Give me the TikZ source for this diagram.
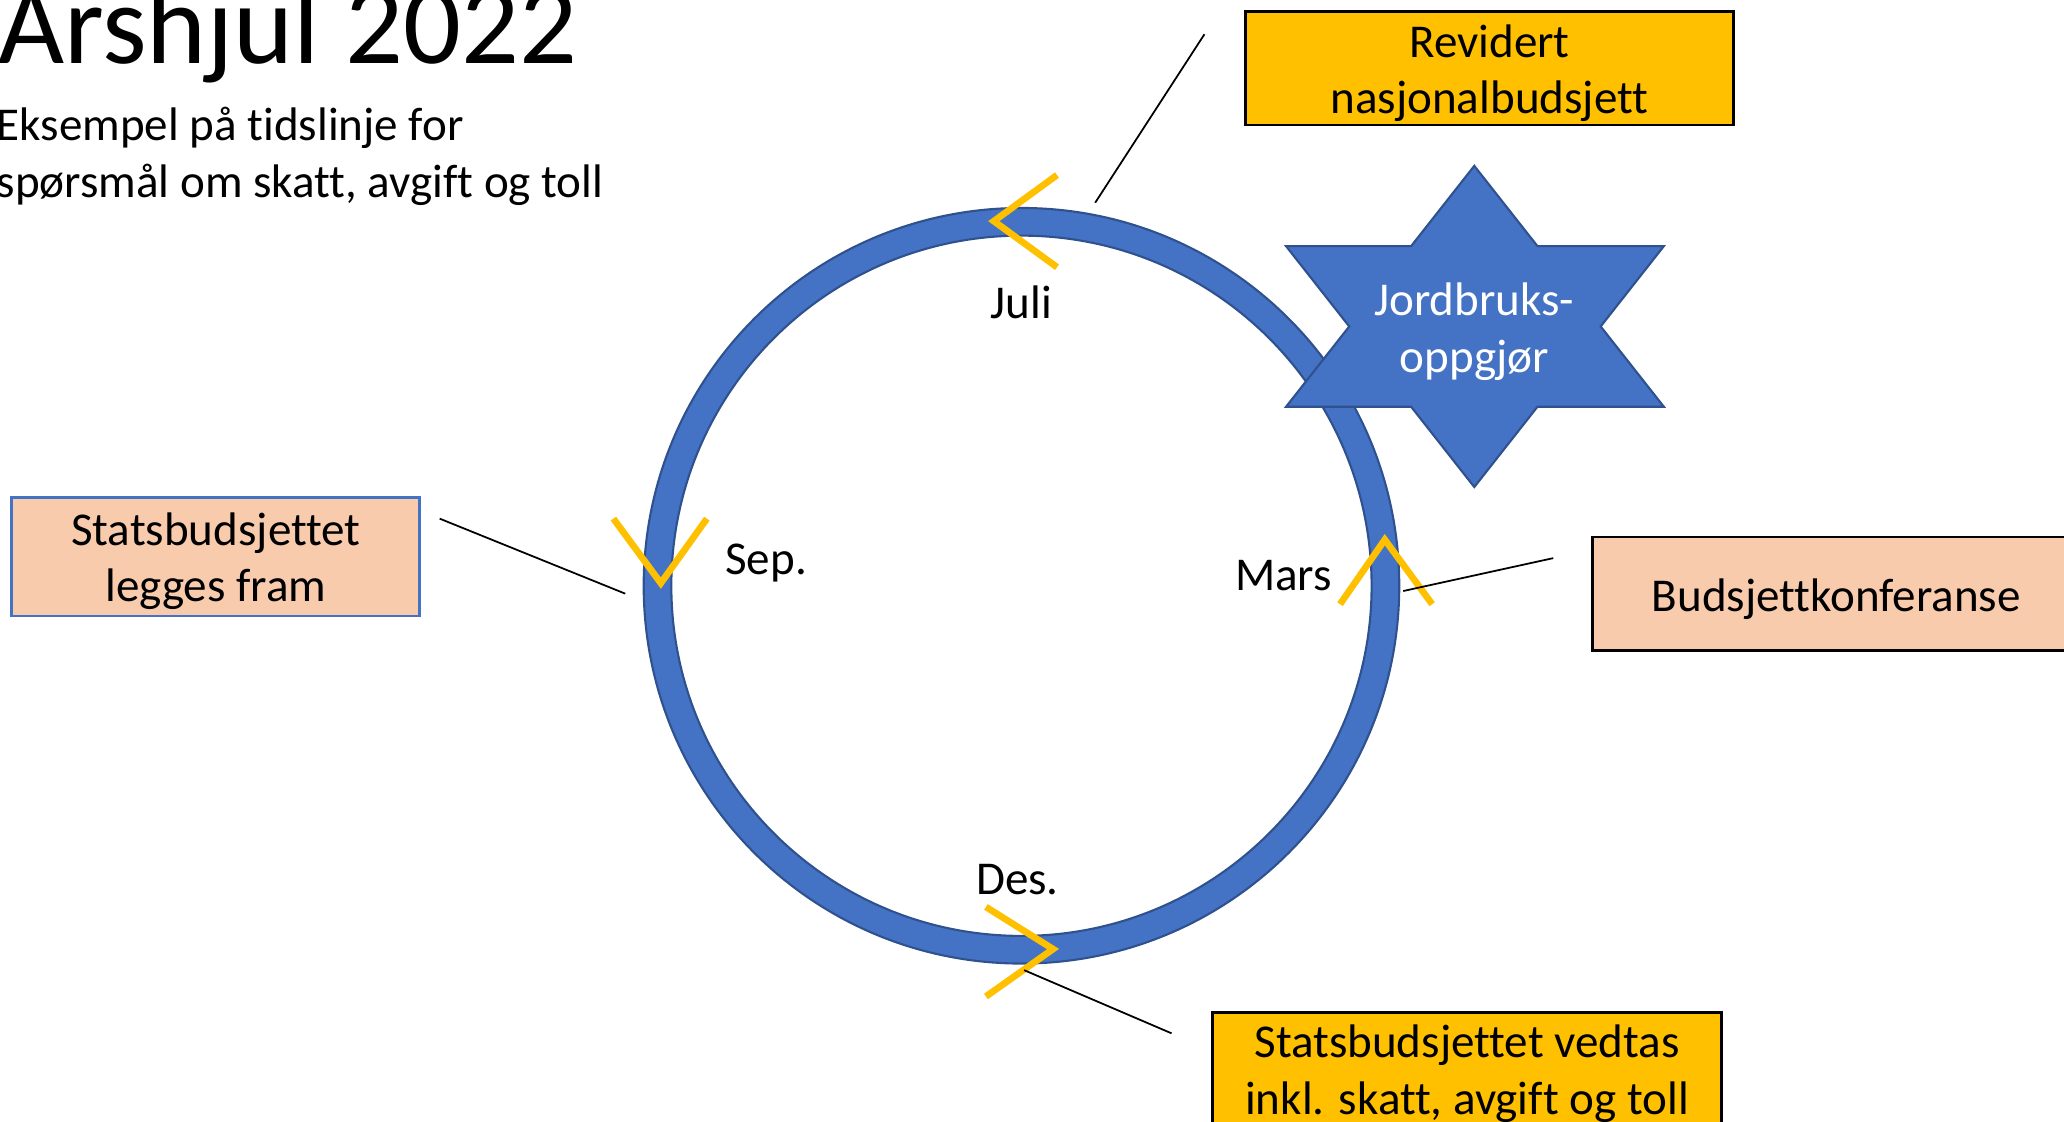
\documentclass[tikz,border=0pt]{standalone}
\usepackage{fontspec}
\setmainfont{Carlito}[Ligatures=NoCommon]
\definecolor{ringblue}{HTML}{4472C4}
\definecolor{ringedge}{HTML}{2F528F}
\definecolor{gold}{HTML}{FFC000}
\definecolor{peach}{HTML}{F8CBAD}
\begin{document}
\begin{tikzpicture}[x=0.013163cm,y=-0.013163cm,
  txt/.style={font=\fontsize{13.4}{16.1}\selectfont, align=center, inner sep=0pt},
  box/.style={draw=black, line width=0.8pt, minimum height=1.132cm, inner sep=0pt},
  chev/.style={draw=gold, line width=1.9pt},
  conn/.style={draw=black, line width=0.5pt}]
\useasboundingbox (0,0) rectangle (1568,852);
\clip (0,0) rectangle (1568,852);

% wheel
\coordinate (wc) at (776,445);
\fill[ringblue, even odd rule] (wc) circle[radius=287] (wc) circle[radius=266];
\draw[ringedge, line width=0.6pt] (wc) circle[radius=287] (wc) circle[radius=266];

% star
\coordinate (sc) at (1120,248);
\fill[ringblue, draw=ringedge, line width=0.6pt]
  (1120,126) -- (1072,187) -- (977,187) -- (1025,248) -- (977,309) -- (1072,309)
  -- (1120,370) -- (1168,309) -- (1264,309) -- (1216,248) -- (1264,187) -- (1168,187) -- cycle;
\node[txt, text=white] (star) at (1120,252) {Jordbruks-\\oppgjør};

% title
\node[anchor=base west, inner sep=0pt, font=\fontsize{32.5}{38}\selectfont] (title) at (-2,48) {Årshjul 2022};
\node[anchor=base west, inner sep=0pt, font=\fontsize{13.4}{16.1}\selectfont] (sub1) at (-3,107) {Eksempel på tidslinje for};
\node[anchor=base west, inner sep=0pt, font=\fontsize{13.4}{16.1}\selectfont] (sub2) at (-3,150) {spørsmål om skatt, avgift og toll};

% boxes
\node[box, fill=gold, minimum width=4.884cm] (rev) at (1131.5,52) {};
\node[txt] (revt) at (1131.5,55.5) {Revidert\\nasjonalbudsjett};
\node[box, fill=peach, draw=ringblue, minimum width=4.081cm, minimum height=1.185cm] (sbl) at (164,423) {};
\node[txt] (sblt) at (164,426.5) {Statsbudsjettet\\legges fram};
\node[box, fill=peach, minimum width=4.870cm] (bk) at (1395,451) {};
\node[txt] (bkt) at (1395,455) {Budsjettkonferanse};
\node[box, fill=gold, minimum width=5.094cm] (sbv) at (1114.5,812) {};
\node[txt] (sbvt) at (1114.5,815.5) {Statsbudsjettet vedtas\\inkl. skatt, avgift og toll};

% month labels
\node[txt] (juli) at (776,230) {Juli};
\node[txt] (sep) at (582,428) {Sep.};
\node[txt] (mars) at (975,437) {Mars};
\node[txt] (des) at (773,668) {Des.};

% chevrons
\coordinate (j1) at (803,133); \coordinate (j2) at (755,168); \coordinate (j3) at (803,203);
\draw[chev] (j1) -- (j2) -- (j3);
\coordinate (s1) at (466,394); \coordinate (s2) at (502,443); \coordinate (s3) at (537,394);
\draw[chev] (s1) -- (s2) -- (s3);
\coordinate (m1) at (1018,459); \coordinate (m2) at (1052,410); \coordinate (m3) at (1088,459);
\draw[chev] (m1) -- (m2) -- (m3);
\coordinate (d1) at (749,689); \coordinate (d2) at (800,721); \coordinate (d3) at (749,757);
\draw[chev] (d1) -- (d2) -- (d3);

% connectors
\coordinate (cj1) at (832,154); \coordinate (cj2) at (915,26);
\draw[conn] (cj1) -- (cj2);
\coordinate (cs1) at (475,451); \coordinate (cs2) at (334,394);
\draw[conn] (cs1) -- (cs2);
\coordinate (cm1) at (1066,449); \coordinate (cm2) at (1180,424);
\draw[conn] (cm1) -- (cm2);
\coordinate (cd1) at (778,737); \coordinate (cd2) at (890,785);
\draw[conn] (cd1) -- (cd2);
\end{tikzpicture}
\end{document}
